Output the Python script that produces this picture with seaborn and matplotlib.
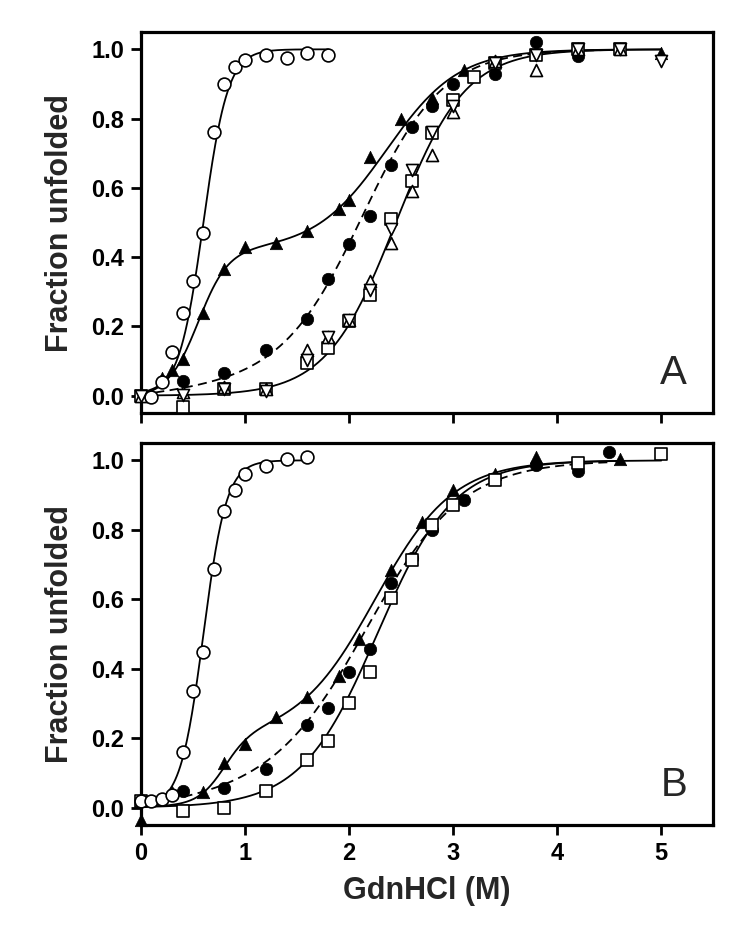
import numpy as np
import pandas as pd
import seaborn as sns
import matplotlib.pyplot as plt

# ---- panel A data ----
a_ocirc_x = [0.1, 0.2, 0.3, 0.4, 0.5, 0.6, 0.7, 0.8, 0.9, 1.0, 1.2, 1.4, 1.6, 1.8]
a_ocirc_y = [-0.005, 0.04, 0.125, 0.24, 0.33, 0.47, 0.76, 0.90, 0.95, 0.97, 0.985, 0.975, 0.99, 0.985]

a_ftri_x = [0, 0.2, 0.3, 0.4, 0.6, 0.8, 1.0, 1.3, 1.6, 1.9, 2.0, 2.2, 2.5, 2.8, 3.1, 5.0]
a_ftri_y = [0.0, 0.05, 0.075, 0.105, 0.24, 0.365, 0.43, 0.44, 0.475, 0.54, 0.565, 0.69, 0.80, 0.86, 0.94, 0.99]

a_fcirc_x = [0, 0.4, 0.8, 1.2, 1.6, 1.8, 2.0, 2.2, 2.4, 2.6, 2.8, 3.0, 3.4, 3.8, 4.2]
a_fcirc_y = [0.0, 0.042, 0.065, 0.133, 0.222, 0.337, 0.438, 0.52, 0.666, 0.777, 0.837, 0.90, 0.93, 1.02, 0.98]

a_sq_x = [0, 0.4, 0.8, 1.2, 1.6, 1.8, 2.0, 2.2, 2.4, 2.6, 2.8, 3.0, 3.2, 3.4, 3.8, 4.2, 4.6]
a_sq_y = [0.0, -0.033, 0.02, 0.02, 0.094, 0.138, 0.215, 0.29, 0.51, 0.62, 0.757, 0.854, 0.92, 0.96, 0.985, 1.0, 1.0]

a_utri_x = [0, 0.4, 0.8, 1.2, 1.6, 1.8, 2.0, 2.2, 2.4, 2.6, 2.8, 3.0, 3.4, 3.8, 4.2, 4.6]
a_utri_y = [0.0, 0.012, 0.025, 0.02, 0.133, 0.17, 0.22, 0.33, 0.44, 0.59, 0.694, 0.82, 0.965, 0.94, 1.0, 1.0]

a_dtri_x = [0, 0.4, 0.8, 1.2, 1.6, 1.8, 2.0, 2.2, 2.4, 2.6, 2.8, 3.0, 3.4, 3.8, 4.2, 4.6, 5.0]
a_dtri_y = [0.0, 0.003, 0.02, 0.015, 0.104, 0.17, 0.22, 0.306, 0.48, 0.653, 0.76, 0.835, 0.96, 0.985, 1.0, 1.0, 0.965]

# ---- panel B data ----
b_ocirc_x = [0, 0.1, 0.2, 0.3, 0.4, 0.5, 0.6, 0.7, 0.8, 0.9, 1.0, 1.2, 1.4, 1.6]
b_ocirc_y = [0.018, 0.02, 0.025, 0.035, 0.16, 0.337, 0.448, 0.686, 0.853, 0.914, 0.96, 0.985, 1.005, 1.01]

b_ftri_x = [0, 0.3, 0.6, 0.8, 1.0, 1.3, 1.6, 1.9, 2.1, 2.4, 2.7, 3.0, 3.4, 3.8, 4.6]
b_ftri_y = [-0.035, 0.045, 0.045, 0.128, 0.184, 0.262, 0.318, 0.38, 0.485, 0.683, 0.822, 0.915, 0.96, 1.01, 1.005]

b_fcirc_x = [0, 0.4, 0.8, 1.2, 1.6, 1.8, 2.0, 2.2, 2.4, 2.6, 2.8, 3.1, 3.8, 4.2, 4.5]
b_fcirc_y = [0.018, 0.047, 0.057, 0.111, 0.237, 0.288, 0.39, 0.456, 0.647, 0.72, 0.80, 0.885, 0.986, 0.97, 1.024]

b_sq_x = [0, 0.4, 0.8, 1.2, 1.6, 1.8, 2.0, 2.2, 2.4, 2.6, 2.8, 3.0, 3.4, 4.2, 5.0]
b_sq_y = [0.018, -0.01, 0.0, 0.047, 0.137, 0.193, 0.30, 0.39, 0.604, 0.714, 0.813, 0.872, 0.942, 0.992, 1.019]

# fit parameters (midpoint, steepness, baseline slope)
a_ocirc_fit = (0.6, 8.5, 0.0)
a_ftri_fit = (0.42, 0.55, 7.0, 2.36, 2.9)   # amp1, m1, k1, m2, k2
a_fcirc_fit = (2.15, 2.6, 0.03)
a_sq_fit = (2.45, 3.0, 0.0)
b_ocirc_fit = (0.6, 9.0, 0.0)
b_ftri_fit = (0.2, 0.8, 8.0, 2.25, 2.66)
b_fcirc_fit = (2.2, 2.2, 0.03)
b_sq_fit = (2.27, 2.74, 0.0)


def two_state(x, m, k, base):
    f = 1.0 / (1.0 + np.exp(-k * (x - m)))
    return base * x * (1 - f) + f


def three_state(x, amp1, m1, k1, m2, k2):
    return amp1 / (1 + np.exp(-k1 * (x - m1))) + (1 - amp1) / (1 + np.exp(-k2 * (x - m2)))


sns.set_style("ticks")
plt.rcParams["font.family"] = ["Liberation Sans", "DejaVu Sans"]

fig = plt.figure(figsize=(7.5, 9.33), dpi=100)
axA = fig.add_axes([0.188, 0.5573, 0.763, 0.4084])
axB = fig.add_axes([0.188, 0.1158, 0.763, 0.4094])

line_kw = dict(color="black", linewidth=1.3, zorder=2)
open_kw = dict(color="white", edgecolor="black", linewidth=1.2, clip_on=False, legend=False)
fill_kw = dict(color="black", edgecolor="black", linewidth=0.5, clip_on=False, legend=False)


def draw_panel(ax, curves, points):
    for xs, ys, dashed in curves:
        sns.lineplot(x=xs, y=ys, ax=ax, linestyle=(0, (5, 3)) if dashed else "-", **line_kw)
    for x, y, marker, size, filled, z in points:
        kw = fill_kw if filled else open_kw
        sns.scatterplot(x=x, y=y, marker=marker, s=size, ax=ax, zorder=z, **kw)


xa1 = np.linspace(0, 1.8, 200)
xa5 = np.linspace(0, 5.0, 400)
xa46 = np.linspace(0, 4.6, 400)
draw_panel(axA,
           [(xa1, two_state(xa1, *a_ocirc_fit), False),
            (xa5, three_state(xa5, *a_ftri_fit), False),
            (xa46, two_state(xa46, *a_fcirc_fit), True),
            (xa5, two_state(xa5, *a_sq_fit), False)],
           [(a_fcirc_x, a_fcirc_y, "o", 80, True, 3),
            (a_ftri_x, a_ftri_y, "^", 80, True, 4),
            (a_sq_x, a_sq_y, "s", 70, False, 5),
            (a_utri_x, a_utri_y, "^", 75, False, 6),
            (a_dtri_x, a_dtri_y, "v", 75, False, 7),
            (a_ocirc_x, a_ocirc_y, "o", 85, False, 8)])

xb1 = np.linspace(0, 1.6, 200)
xb46 = np.linspace(0, 4.6, 400)
xb45 = np.linspace(0, 4.5, 400)
xb5 = np.linspace(0, 5.0, 400)
draw_panel(axB,
           [(xb1, two_state(xb1, *b_ocirc_fit), False),
            (xb46, three_state(xb46, *b_ftri_fit), False),
            (xb45, two_state(xb45, *b_fcirc_fit), True),
            (xb5, two_state(xb5, *b_sq_fit), False)],
           [(b_fcirc_x, b_fcirc_y, "o", 80, True, 3),
            (b_ftri_x, b_ftri_y, "^", 80, True, 4),
            (b_sq_x, b_sq_y, "s", 70, False, 5),
            (b_ocirc_x, b_ocirc_y, "o", 85, False, 8)])

for ax, letter in [(axA, "A"), (axB, "B")]:
    ax.set_xlim(0, 5.5)
    ax.set_ylim(-0.05, 1.05)
    ax.set_xticks([0, 1, 2, 3, 4, 5])
    ax.set_yticks([0.0, 0.2, 0.4, 0.6, 0.8, 1.0])
    ax.set_yticklabels(["0.0", "0.2", "0.4", "0.6", "0.8", "1.0"])
    for sp in ax.spines.values():
        sp.set_linewidth(2.3)
        sp.set_color("black")
    ax.tick_params(direction="out", length=7, width=2, labelsize=17, colors="black", pad=5)
    for lab in ax.get_yticklabels() + ax.get_xticklabels():
        lab.set_fontweight("bold")
    ax.set_ylabel("Fraction unfolded", fontsize=22, fontweight="bold", labelpad=12)
    ax.text(5.12, 0.065, letter, fontsize=29, ha="center", va="center")

axA.set_xticklabels([])
axA.set_xlabel("")
axB.set_xlabel("GdnHCl (M)", fontsize=22, fontweight="bold", labelpad=8)

fig.savefig("out.png", dpi=100)
